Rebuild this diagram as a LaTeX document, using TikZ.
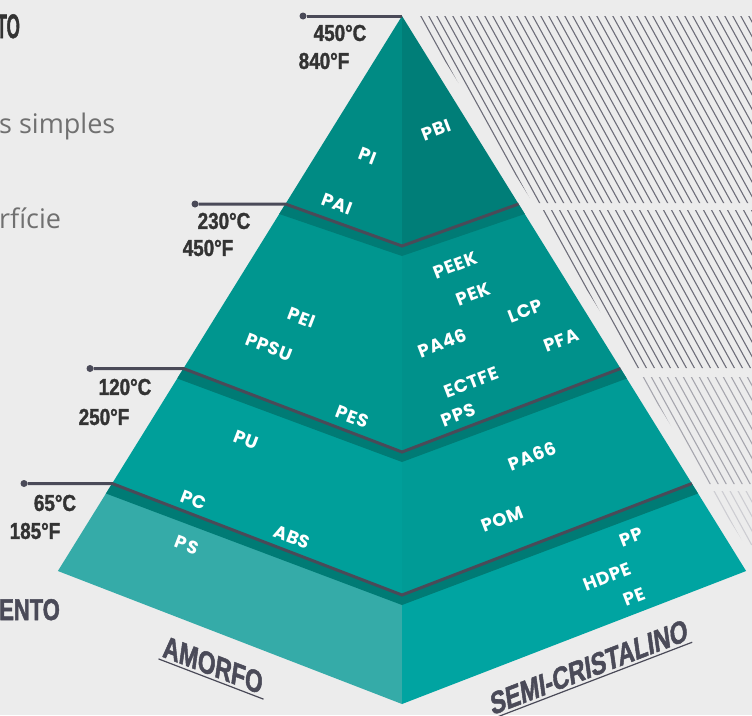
\documentclass[tikz,border=0pt]{standalone}
\usepackage{fontspec}
\newfontfamily\labfont[LetterSpace=4]{Poppins}
\newfontfamily\condfont[FakeStretch=0.77, FakeBold=1.6, UprightFont={* Bold}]{Liberation Sans}
\newfontfamily\tempfont[FakeStretch=0.82, FakeBold=1.4, UprightFont={* Bold}]{Liberation Sans}
\newfontfamily\bodyfont{Open Sans}
\usetikzlibrary{calc}

\definecolor{bg}{HTML}{ECECEC}
\definecolor{slate}{HTML}{4A4A58}
\definecolor{tempgray}{HTML}{333333}
\definecolor{textgray}{HTML}{707070}
\definecolor{hatchdark}{HTML}{6E6E7A}
\definecolor{hatchlight}{HTML}{A6A6AE}
\definecolor{hatchpale}{HTML}{CDCDD2}
\definecolor{tOneL}{HTML}{008B84}
\definecolor{tOneR}{HTML}{007E78}
\definecolor{tTwoL}{HTML}{00968F}
\definecolor{tTwoR}{HTML}{00918B}
\definecolor{tThreeL}{HTML}{009F9A}
\definecolor{tThreeR}{HTML}{009B96}
\definecolor{tFourL}{HTML}{35ABA8}
\definecolor{tFourR}{HTML}{00A4A1}
\definecolor{stripc}{HTML}{007B75}

\begin{document}
\begin{tikzpicture}[
    x=1pt, y=-1pt,
    % Styles
    leader/.style={ % temperature lines and tier borders
        draw=slate,
        line width=3pt
    },
    dot/.style={ % end of a temperature line
        circle,
        fill=slate,
        inner sep=0pt,
        minimum size=7pt
    },
    hatch/.style={ % background hatching
        line width=1.1pt
    },
    temp/.style={ % temperature labels
        inner sep=0pt,
        text=tempgray,
        font=\tempfont\fontsize{23}{23}\selectfont
    },
    poly/.style={ % polymer names
        inner sep=0pt,
        text=white,
        font=\labfont\bfseries\fontsize{18}{18}\selectfont
    },
    polyl/.style={poly, rotate=-21}, % on the left face
    polyr/.style={poly, rotate=21},  % on the right face
    family/.style={ % AMORFO / SEMI-CRISTALINO
        inner sep=3pt,
        text=slate,
        font=\condfont\fontsize{31}{31}\selectfont
    },
    uline/.style={
        draw=slate,
        line width=1.2pt
    }
]

    % Page
    \useasboundingbox (0,0) rectangle (752,715);
    \fill[bg] (0,0) rectangle (752,715);
    \clip (0,0) rectangle (752,715);

    % Hatching right of the pyramid
    \foreach \yt/\yb/\col in {16/203/hatchdark, 210/368/hatchdark, 377/484/hatchlight, 491/545/hatchpale} {
        \pgfmathsetmacro\xt{417+0.62*(\yt-16)}
        \pgfmathsetmacro\xb{417+0.62*(\yb-16)}
        \begin{scope}
            \clip (\xt,\yt) -- (760,\yt) -- (760,\yb) -- (\xb,\yb) -- cycle;
            \foreach \c in {100,108,...,780}
                \draw[hatch, \col] (\c,0) -- ++(396,720);
        \end{scope}
    }

    % Tier corners
    \foreach \k/\y/\v in {0/16/16, 1/204/246, 2/368.5/452, 3/483.5/595, 4/571/704} {
        \coordinate (L\k) at ({402-0.62*(\y-16)}, \y);
        \coordinate (V\k) at (402, \v);
        \coordinate (R\k) at ({402+0.62*(\y-16)}, \y);
    }

    % Tier faces
    \foreach \k/\j/\cl/\cr in {1/0/tOneL/tOneR, 2/1/tTwoL/tTwoR, 3/2/tThreeL/tThreeR, 4/3/tFourL/tFourR} {
        \fill[\cl] (L\j) -- (L\k) -- (V\k) -- (V\j) -- cycle;
        \fill[\cr] (V\j) -- (V\k) -- (R\k) -- (R\j) -- cycle;
    }

    % Top edge of each lower tier
    \foreach \k/\y/\v in {1/204/246, 2/368.5/452, 3/483.5/595} {
        \fill[stripc] (L\k) -- (V\k) -- (R\k) -- ({402+0.62*(\y-6)}, \y+10)
            -- (402, \v+10) -- ({402-0.62*(\y-6)}, \y+10) -- cycle;
    }

    % Temperature lines
    \node[dot] (d0) at (303,16) {};
    \node[dot] (d1) at (195,204) {};
    \node[dot] (d2) at (90,368.5) {};
    \node[dot] (d3) at (24,483.5) {};
    \draw[leader] (d0) -- (L0);
    \draw[leader] (d1) -- (L1) -- (V1) -- (R1);
    \draw[leader] (d2) -- (L2) -- (V2) -- (R2);
    \draw[leader] (d3) -- (L3) -- (V3) -- (R3);

    % Temperatures
    \node[temp] (c450) at (340,33) {450°C};
    \node[temp] (f840) at (324,61) {840°F};
    \node[temp] (c230) at (224,221) {230°C};
    \node[temp] (f450) at (208,248) {450°F};
    \node[temp] (c120) at (125,387) {120°C};
    \node[temp] (f250) at (104,417) {250°F};
    \node[temp] (c65) at (55,503) {65°C};
    \node[temp] (f185) at (35,531) {185°F};

    % Polymers, left face
    \node[polyl] (pi) at (368,156) {PI};
    \node[polyl] (pai) at (337,204) {PAI};
    \node[polyl] (pei) at (302,318) {PEI};
    \node[polyl] (ppsu) at (269,347) {PPSU};
    \node[polyl] (pes) at (352,417) {PES};
    \node[polyl] (pu) at (246,440) {PU};
    \node[polyl] (pc) at (194,500) {PC};
    \node[polyl] (abs) at (292,537) {ABS};
    \node[polyl] (ps) at (187,545) {PS};

    % Polymers, right face
    \node[polyr] (pbi) at (436,130) {PBI};
    \node[polyr] (peek) at (455,265) {PEEK};
    \node[polyr] (pek) at (473,294) {PEK};
    \node[polyr] (lcp) at (525,311) {LCP};
    \node[polyr] (pfa) at (561,340) {PFA};
    \node[polyr] (pa46) at (442,343) {PA46};
    \node[polyr] (ectfe) at (471,382) {ECTFE};
    \node[polyr] (pps) at (458,415) {PPS};
    \node[polyr] (pa66) at (532,456) {PA66};
    \node[polyr] (pom) at (502,519) {POM};
    \node[polyr] (pp) at (631,537) {PP};
    \node[polyr] (hdpe) at (607,577) {HDPE};
    \node[polyr] (pe) at (634,597) {PE};

    % Families under the pyramid
    \node[family, cm={0.934,-0.358,0.139,0.990,(0,0)}] (amorfo) at (213,665) {AMORFO};
    \node[family, cm={0.934,0.358,-0.139,0.990,(0,0)}] (semi) at (589,667) {SEMI-CRISTALINO};
    \draw[uline] (amorfo.south west) -- (amorfo.south east);
    \draw[uline] (semi.south west) -- (semi.south east);

    % Text cut off at the left
    \node[anchor=base east, inner sep=0pt, text=tempgray, xscale=0.65,
        font=\condfont\fontsize{34}{34}\selectfont] (title) at (20,38) {TO};
    \node[anchor=base west, inner sep=0pt, text=textgray,
        font=\bodyfont\fontsize{27}{27}\selectfont] (simples) at (-1,133) {s simples};
    \node[anchor=base west, inner sep=0pt, text=textgray,
        font=\bodyfont\fontsize{27}{27}\selectfont] (superf) at (-1,228) {rfície};
    \node[anchor=base east, inner sep=0pt, text=slate, xscale=0.95,
        font=\condfont\fontsize{30}{30}\selectfont] (mento) at (60,620) {MENTO};
\end{tikzpicture}
\end{document}
